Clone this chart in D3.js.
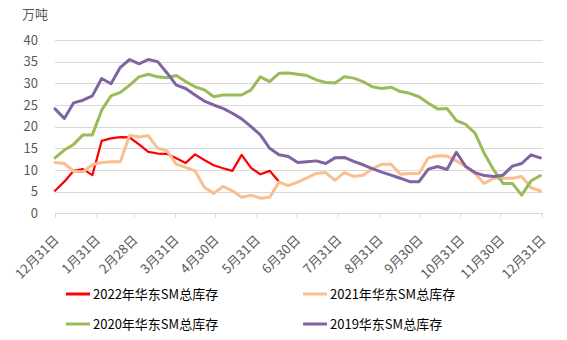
<!DOCTYPE html>
<html>
<head>
<meta charset="utf-8">
<script src="https://cdn.jsdelivr.net/npm/d3@7"></script>
<style>
  body { margin: 0; background: #fff; font-family: "Noto Sans CJK SC", "Noto Sans", sans-serif; }
</style>
</head>
<body>
<div id="container"><svg></svg></div>
<script>
// weekly data, starting 12月31日
let s2022 = [5.2, 7.3, 9.8, 10.2, 8.8, 16.7, 17.3, 17.6, 17.5, 15.9, 14.2, 13.8, 13.7, 12.7, 11.6,
    13.6, 12.3, 11.1, 10.4, 9.8, 13.5, 10.5, 9.0, 9.8, 7.3];
let s2021 = [11.7, 11.5, 9.7, 9.6, 11.2, 11.7, 11.9, 11.9, 18.0, 17.6, 17.9, 15.0, 14.4, 11.3, 10.6,
    9.8, 6.0, 4.6, 6.2, 5.2, 3.7, 4.2, 3.5, 3.7, 7.2, 6.4, 7.2, 8.2, 9.2, 9.4, 7.6, 9.4, 8.5, 8.8,
    10.3, 11.3, 11.3, 9.0, 9.2, 9.2, 12.8, 13.3, 13.2, 12.1, 10.8, 9.2, 6.9, 8.1, 8.1, 8.1, 8.5, 5.9, 5.2];
let s2020 = [12.8, 14.6, 15.9, 18.1, 18.1, 23.8, 27.1, 27.9, 29.6, 31.5, 32.1, 31.5, 31.3, 31.8, 30.4,
    29.2, 28.5, 26.9, 27.3, 27.3, 27.3, 28.5, 31.5, 30.4, 32.3, 32.4, 32.1, 31.8, 30.8, 30.2, 30.1,
    31.5, 31.2, 30.4, 29.2, 28.8, 29.1, 28.1, 27.7, 26.9, 25.4, 24.1, 24.2, 21.4, 20.5, 18.5, 13.8,
    10.0, 6.9, 6.9, 4.2, 7.5, 8.7];
let s2019 = [24.1, 21.9, 25.5, 26.1, 27.1, 31.1, 29.9, 33.7, 35.5, 34.5, 35.5, 35.0, 32.4, 29.6, 28.8,
    27.3, 25.9, 25.0, 24.2, 23.1, 21.8, 20.0, 18.1, 15.0, 13.5, 13.1, 11.7, 11.9, 12.1, 11.5, 12.8,
    12.9, 12.0, 11.2, 10.3, 9.5, 8.8, 8.1, 7.3, 7.3, 10.2, 10.8, 10.1, 14.1, 10.8, 9.4, 8.7, 8.5,
    8.8, 10.9, 11.5, 13.5, 12.8];

let seriesNames = ['2022年华东SM总库存', '2021年华东SM总库存', '2020年华东SM总库存', '2019华东SM总库存'];
let seriesColors = ['#FF0000', '#F9BF8F', '#9BBB59', '#8064A2'];
let seriesWidths = [2.25, 3, 3, 3];

let tickDates = [[2021, 11, 31], [2022, 0, 31], [2022, 1, 28], [2022, 2, 31], [2022, 3, 30], [2022, 4, 31],
    [2022, 5, 30], [2022, 6, 31], [2022, 7, 31], [2022, 8, 30], [2022, 9, 31], [2022, 10, 30], [2022, 11, 31]]
    .map(d => new Date(d[0], d[1], d[2]));
let yTicks = [0, 5, 10, 15, 20, 25, 30, 35, 40];

let startDate = new Date(2021, 11, 31);
let weekDate = i => d3.timeDay.offset(startDate, 7 * i);

function draw_main(width, height) {
    let fontFamily = '"Noto Sans CJK SC", "Noto Sans", sans-serif';
    let svg = d3.select('#container').select('svg')
        .attr('width', width)
        .attr('height', height);

    let x = d3.scaleTime()
        .domain([tickDates[0], tickDates[tickDates.length - 1]])
        .range([55, 541.7]);
    let y = d3.scaleLinear()
        .domain([0, 40])
        .range([213.3, 40]);

    // grid
    svg.append('g')
        .selectAll('line')
        .data(yTicks.slice(1))
        .enter().append('line')
        .attr('x1', 55).attr('x2', 543)
        .attr('y1', d => Math.round(y(d)) + 0.5).attr('y2', d => Math.round(y(d)) + 0.5)
        .attr('stroke', '#D9D9D9').attr('stroke-width', 1);

    // y labels
    svg.append('g')
        .selectAll('text')
        .data(yTicks)
        .enter().append('text')
        .attr('x', 38)
        .attr('y', d => y(d))
        .attr('dy', '0.35em')
        .attr('text-anchor', 'end')
        .attr('font-family', fontFamily)
        .attr('font-size', '13px')
        .attr('fill', '#595959')
        .text(d => d);

    svg.append('text')
        .attr('x', 22).attr('y', 19)
        .attr('font-family', fontFamily)
        .attr('font-size', '13px')
        .attr('fill', '#595959')
        .text('万吨');

    // x axis
    let axis_x = d3.axisBottom(x)
        .tickValues(tickDates)
        .tickSize(4)
        .tickSizeOuter(0)
        .tickFormat(d => (d.getMonth() + 1) + '月' + d.getDate() + '日');
    let gx = svg.append('g')
        .attr('transform', `translate(0, ${Math.round(y(0)) + 0.5})`)
        .call(axis_x);
    gx.select('.domain').attr('stroke', '#D9D9D9').attr('d', 'M55,0H543');
    gx.selectAll('.tick line').attr('stroke', '#D9D9D9');
    gx.selectAll('.tick text')
        .attr('font-family', fontFamily)
        .attr('font-size', '13px')
        .attr('fill', '#595959')
        .attr('text-anchor', 'end')
        .attr('x', 0).attr('y', 0).attr('dy', '0.35em')
        .attr('transform', 'translate(1, 24) rotate(-45)');

    // lines
    let series = [s2022, s2021, s2020, s2019];
    let line = d3.line()
        .x((d, i) => x(weekDate(i)))
        .y(d => y(d));
    svg.append('g')
        .selectAll('path')
        .data(series)
        .enter().append('path')
        .attr('d', d => line(d))
        .attr('fill', 'none')
        .attr('stroke', (d, i) => seriesColors[i])
        .attr('stroke-width', (d, i) => seriesWidths[i])
        .attr('stroke-linejoin', 'round')
        .attr('stroke-linecap', 'round');

    // legend
    let legend = svg.append('g')
        .selectAll('g')
        .data(seriesNames)
        .enter().append('g')
        .attr('transform', (d, i) => `translate(${i % 2 == 0 ? 66 : 303}, ${i < 2 ? 294 : 324})`);
    legend.append('line')
        .attr('x1', 0).attr('x2', 24)
        .attr('y1', 0).attr('y2', 0)
        .attr('stroke', (d, i) => seriesColors[i])
        .attr('stroke-width', 3);
    legend.append('text')
        .attr('x', 27).attr('y', 0)
        .attr('dy', '0.35em')
        .attr('font-family', fontFamily)
        .attr('font-size', '13px')
        .attr('fill', '#000')
        .text(d => d);
}

draw_main(567, 340);
</script>
</body>
</html>
